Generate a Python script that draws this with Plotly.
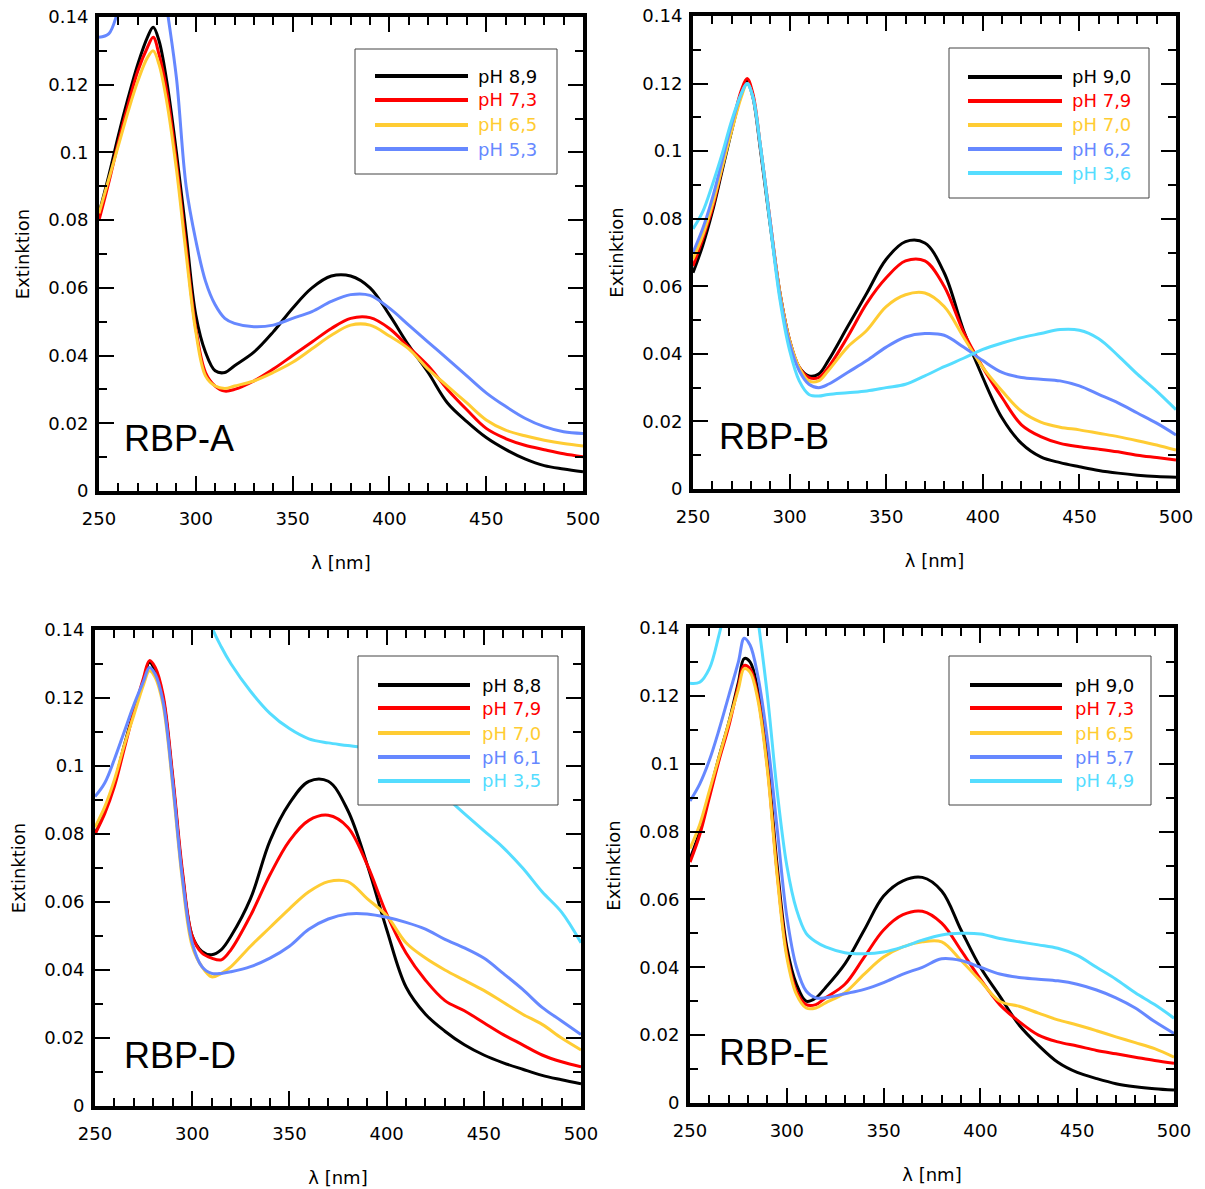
import plotly.graph_objects as go

W, H = 1205, 1189
OFF = 0  # body margin removed via post_script
FW, FH = W - OFF, H - OFF

# wavelength grid (nm)
WL = [250, 255, 260, 265, 270, 275, 278, 281, 285, 290, 295, 300, 305, 310, 315, 320,
      330, 340, 350, 360, 370, 380, 390, 400, 410, 420, 430, 440, 450, 460, 470, 480, 490, 500]

# ---- RBP-A ----
A_LABELS = ["pH 8,9", "pH 7,3", "pH 6,5", "pH 5,3"]
A_89 = [0.082, 0.093, 0.105, 0.116, 0.126, 0.134, 0.137, 0.133, 0.121, 0.100, 0.076, 0.052, 0.041, 0.0355, 0.035, 0.037,
        0.041, 0.047, 0.054, 0.060, 0.0635, 0.0635, 0.060, 0.052, 0.043, 0.035, 0.026, 0.0205, 0.0158, 0.0123, 0.0095, 0.0075, 0.0065, 0.0057]
A_73 = [0.080, 0.091, 0.103, 0.114, 0.124, 0.131, 0.134, 0.129, 0.118, 0.097, 0.072, 0.048, 0.035, 0.031, 0.0295, 0.030,
        0.0325, 0.036, 0.040, 0.044, 0.048, 0.051, 0.0512, 0.048, 0.0425, 0.037, 0.030, 0.024, 0.0185, 0.0155, 0.0135, 0.0122, 0.011, 0.0101]
A_65 = [0.082, 0.092, 0.102, 0.112, 0.121, 0.128, 0.130, 0.126, 0.115, 0.095, 0.070, 0.047, 0.034, 0.031, 0.0303, 0.031,
        0.0325, 0.035, 0.038, 0.042, 0.046, 0.049, 0.049, 0.0458, 0.042, 0.036, 0.031, 0.026, 0.021, 0.018, 0.0163, 0.015, 0.014, 0.0133]
A_53 = [0.134, 0.135, 0.142, 0.150, 0.158, 0.163, 0.165, 0.160, 0.143, 0.122, 0.090, 0.074, 0.062, 0.055, 0.051, 0.0495,
        0.0485, 0.049, 0.051, 0.053, 0.056, 0.058, 0.0578, 0.054, 0.049, 0.044, 0.039, 0.034, 0.029, 0.025, 0.0215, 0.019, 0.0175, 0.017]

# ---- RBP-B ----
B_LABELS = ["pH 9,0", "pH 7,9", "pH 7,0", "pH 6,2", "pH 3,6"]
B_90 = [0.064, 0.072, 0.082, 0.094, 0.106, 0.117, 0.121, 0.116, 0.100, 0.078, 0.058, 0.044, 0.036, 0.0335, 0.034, 0.038,
        0.048, 0.058, 0.068, 0.0732, 0.0728, 0.064, 0.047, 0.033, 0.021, 0.0135, 0.0095, 0.0078, 0.0066, 0.0055, 0.0047, 0.0041, 0.0037, 0.0035]
B_79 = [0.066, 0.074, 0.083, 0.095, 0.107, 0.118, 0.1215, 0.117, 0.101, 0.079, 0.058, 0.044, 0.036, 0.033, 0.033, 0.036,
        0.045, 0.055, 0.0625, 0.0675, 0.0675, 0.060, 0.0465, 0.036, 0.027, 0.019, 0.0155, 0.0135, 0.0125, 0.0118, 0.011, 0.010, 0.0093, 0.0086]
B_70 = [0.068, 0.075, 0.084, 0.095, 0.106, 0.116, 0.120, 0.116, 0.101, 0.079, 0.058, 0.044, 0.036, 0.032, 0.032, 0.035,
        0.042, 0.047, 0.054, 0.0575, 0.058, 0.054, 0.045, 0.036, 0.029, 0.023, 0.0198, 0.0183, 0.0175, 0.0165, 0.0155, 0.0143, 0.013, 0.0115]
B_62 = [0.070, 0.077, 0.086, 0.097, 0.108, 0.117, 0.120, 0.116, 0.101, 0.079, 0.057, 0.043, 0.035, 0.031, 0.030, 0.031,
        0.0345, 0.038, 0.042, 0.045, 0.046, 0.0455, 0.042, 0.038, 0.0345, 0.033, 0.0325, 0.032, 0.0305, 0.028, 0.0255, 0.0225, 0.0195, 0.016]
B_36 = [0.077, 0.082, 0.090, 0.099, 0.109, 0.117, 0.120, 0.116, 0.101, 0.078, 0.056, 0.041, 0.032, 0.028, 0.0275, 0.028,
        0.0285, 0.029, 0.030, 0.031, 0.0335, 0.0362, 0.0387, 0.0413, 0.0432, 0.0448, 0.046, 0.0472, 0.047, 0.0445, 0.0395, 0.034, 0.029, 0.0235]

# ---- RBP-D ----
D_LABELS = ["pH 8,8", "pH 7,9", "pH 7,0", "pH 6,1", "pH 3,5"]
D_88 = [0.080, 0.087, 0.095, 0.106, 0.116, 0.125, 0.1305, 0.128, 0.120, 0.096, 0.068, 0.050, 0.0455, 0.0445, 0.046, 0.050,
        0.061, 0.078, 0.089, 0.0955, 0.0955, 0.087, 0.071, 0.052, 0.035, 0.027, 0.022, 0.018, 0.015, 0.0127, 0.0108, 0.009, 0.0077, 0.0065]
D_79 = [0.080, 0.086, 0.094, 0.105, 0.116, 0.126, 0.131, 0.129, 0.121, 0.097, 0.069, 0.050, 0.045, 0.0435, 0.043, 0.046,
        0.056, 0.068, 0.078, 0.084, 0.0855, 0.082, 0.071, 0.0565, 0.045, 0.037, 0.031, 0.028, 0.0245, 0.021, 0.018, 0.015, 0.013, 0.0115]
D_70 = [0.082, 0.088, 0.096, 0.106, 0.115, 0.124, 0.128, 0.126, 0.118, 0.094, 0.066, 0.047, 0.041, 0.038, 0.039, 0.041,
        0.047, 0.0525, 0.058, 0.063, 0.066, 0.066, 0.061, 0.056, 0.048, 0.0435, 0.040, 0.037, 0.034, 0.0305, 0.027, 0.024, 0.020, 0.0165]
D_61 = [0.091, 0.095, 0.102, 0.110, 0.118, 0.125, 0.129, 0.127, 0.119, 0.095, 0.067, 0.048, 0.041, 0.039, 0.039, 0.0395,
        0.041, 0.0435, 0.047, 0.052, 0.055, 0.0565, 0.0565, 0.0555, 0.054, 0.052, 0.049, 0.0465, 0.0435, 0.039, 0.0343, 0.029, 0.025, 0.021]
D_35 = [None, None, None, None, None, None, None, None, None, 0.200, 0.180, 0.163, 0.151, 0.141, 0.135, 0.130,
        0.122, 0.1155, 0.111, 0.108, 0.1068, 0.106, 0.105, 0.102, 0.099, 0.095, 0.091, 0.086, 0.081, 0.076, 0.070, 0.063, 0.057, 0.048]

# ---- RBP-E ----
E_LABELS = ["pH 9,0", "pH 7,3", "pH 6,5", "pH 5,7", "pH 4,9"]
E_90 = [0.072, 0.080, 0.091, 0.102, 0.112, 0.124, 0.131, 0.130, 0.122, 0.101, 0.070, 0.046, 0.035, 0.030, 0.031, 0.034,
        0.041, 0.051, 0.061, 0.0655, 0.0665, 0.0625, 0.051, 0.040, 0.0315, 0.023, 0.017, 0.012, 0.009, 0.0072, 0.0057, 0.0048, 0.0042, 0.0038]
E_73 = [0.071, 0.079, 0.090, 0.101, 0.111, 0.123, 0.129, 0.128, 0.120, 0.099, 0.068, 0.044, 0.033, 0.029, 0.029, 0.031,
        0.035, 0.043, 0.051, 0.0555, 0.0565, 0.053, 0.045, 0.0365, 0.029, 0.024, 0.020, 0.018, 0.0168, 0.0155, 0.0145, 0.0135, 0.0125, 0.0117]
E_65 = [0.075, 0.082, 0.092, 0.102, 0.112, 0.122, 0.128, 0.127, 0.119, 0.098, 0.067, 0.043, 0.032, 0.028, 0.028, 0.0295,
        0.0325, 0.038, 0.043, 0.046, 0.0475, 0.0475, 0.042, 0.036, 0.030, 0.0285, 0.0265, 0.0245, 0.023, 0.0213, 0.0195, 0.0178, 0.016, 0.0135]
E_57 = [0.089, 0.094, 0.101, 0.110, 0.120, 0.130, 0.137, 0.135, 0.126, 0.107, 0.081, 0.055, 0.040, 0.033, 0.031, 0.031,
        0.0322, 0.0335, 0.0355, 0.038, 0.040, 0.0425, 0.042, 0.040, 0.038, 0.037, 0.0365, 0.036, 0.035, 0.0333, 0.031, 0.028, 0.024, 0.0205]
E_49 = [0.1237, 0.124, 0.128, 0.138, 0.150, 0.160, 0.165, 0.160, 0.143, 0.120, 0.092, 0.070, 0.057, 0.050, 0.0475, 0.046,
        0.0443, 0.044, 0.0445, 0.046, 0.048, 0.0495, 0.050, 0.0498, 0.0485, 0.0475, 0.0466, 0.0456, 0.0435, 0.040, 0.0365, 0.0325, 0.029, 0.025]

PANEL_NAMES = ["RBP-A", "RBP-B", "RBP-D", "RBP-E"]
SERIES = [[A_89, A_73, A_65, A_53], [B_90, B_79, B_70, B_62, B_36],
          [D_88, D_79, D_70, D_61, D_35], [E_90, E_73, E_65, E_57, E_49]]
LABELS = [A_LABELS, B_LABELS, D_LABELS, E_LABELS]
COLORS = ["#000000", "#ff0000", "#ffcc33", "#6688ff", "#55ddff"]

X_TICKS = [250, 300, 350, 400, 450, 500]
Y_TICKVALS = [0, 0.02, 0.04, 0.06, 0.08, 0.10, 0.12, 0.14]
Y_TICKTEXT = ["0", "0.02", "0.04", "0.06", "0.08", "0.1", "0.12", "0.14"]
X_TITLE = "λ [nm]"
Y_TITLE = "Extinktion"

# ---- layout (pixel boxes of the reference) ----
BOXES = [(99, 17, 583, 491), (693, 16, 1176, 489), (95, 630, 581, 1106), (690, 628, 1174, 1103)]
LEG_BOX = [(355, 49, 557, 174), (949, 48, 1149, 198), (358, 656, 558, 805), (949, 656, 1151, 805)]
LEG_SAMPLE = [(375, 468, 476), (968, 1062, 1070), (378, 470, 480), (970, 1062, 1073)]
LEG_ROWS = [[76, 100, 125, 149], [77, 101, 125, 149, 173], [685, 708, 733, 757, 781], [685, 708, 733, 757, 781]]
NAME_POS = [(122, 438), (717, 436), (122, 1055), (717, 1052)]

FONT = "DejaVu Sans"


def px(x):
    return (x - OFF) / FW


def py(y):
    return 1 - (y - OFF) / FH


fig = go.Figure()
layout = dict(template="none", width=FW, height=FH, margin=dict(l=0, r=0, t=0, b=0, pad=0),
              paper_bgcolor="white", plot_bgcolor="white", showlegend=False,
              font=dict(family=FONT, size=18, color="black"))
shapes, annotations = [], []

for i in range(4):
    sfx = "" if i == 0 else str(i + 1)
    x0, y0, x1, y1 = BOXES[i]
    common = dict(showline=True, linewidth=4, linecolor="black", mirror="allticks",
                  ticks="inside", ticklen=15, tickwidth=2, tickcolor="black",
                  showgrid=False, zeroline=False, automargin=False, ticklabeloverflow="allow",
                  tickfont=dict(family=FONT, size=18, color="black"))
    layout["xaxis" + sfx] = dict(common, domain=[px(x0), px(x1)], range=[250, 500],
                                 tickvals=X_TICKS, anchor="y" + sfx, ticklabelstandoff=8,
                                 minor=dict(ticks="inside", ticklen=8, tickwidth=2, tickcolor="black",
                                            dtick=10, tick0=250, showgrid=False),
                                 title=dict(text=X_TITLE, font=dict(family=FONT, size=18), standoff=30))
    layout["yaxis" + sfx] = dict(common, domain=[py(y1), py(y0)], range=[0, 0.14],
                                 tickvals=Y_TICKVALS, ticktext=Y_TICKTEXT, anchor="x" + sfx,
                                 ticklabelstandoff=3,
                                 minor=dict(ticks="inside", ticklen=8, tickwidth=2, tickcolor="black",
                                            dtick=0.01, tick0=0, showgrid=False),
                                 title=dict(text=Y_TITLE, font=dict(family=FONT, size=18), standoff=15))
    for j, vals in enumerate(SERIES[i]):
        fig.add_trace(go.Scatter(x=WL, y=vals, mode="lines", name=LABELS[i][j],
                                 line=dict(color=COLORS[j], width=3, shape="spline", smoothing=1.0),
                                 xaxis="x" + sfx, yaxis="y" + sfx))
    # legend box
    bx0, by0, bx1, by1 = LEG_BOX[i]
    shapes.append(dict(type="rect", xref="paper", yref="paper", x0=px(bx0), x1=px(bx1),
                       y0=py(by1), y1=py(by0), line=dict(color="#444444", width=1), fillcolor="white",
                       layer="above"))
    sx0, sx1, tx = LEG_SAMPLE[i]
    for j, ry in enumerate(LEG_ROWS[i]):
        shapes.append(dict(type="line", xref="paper", yref="paper", x0=px(sx0), x1=px(sx1),
                           y0=py(ry), y1=py(ry), line=dict(color=COLORS[j], width=4), layer="above"))
        annotations.append(dict(text=LABELS[i][j], xref="paper", yref="paper", x=px(tx), y=py(ry),
                                xanchor="left", yanchor="middle", showarrow=False,
                                font=dict(family=FONT, size=18, color=COLORS[j])))
    nx, ny = NAME_POS[i]
    annotations.append(dict(text=PANEL_NAMES[i], xref="paper", yref="paper", x=px(nx), y=py(ny),
                            xanchor="left", yanchor="middle", showarrow=False,
                            font=dict(family="Liberation Sans", size=36, color="black")))

layout["shapes"] = shapes
layout["annotations"] = annotations
fig.update_layout(**layout)
fig.write_html("out.html", config={"displayModeBar": False},
               post_script="document.body.style.margin='0';")
